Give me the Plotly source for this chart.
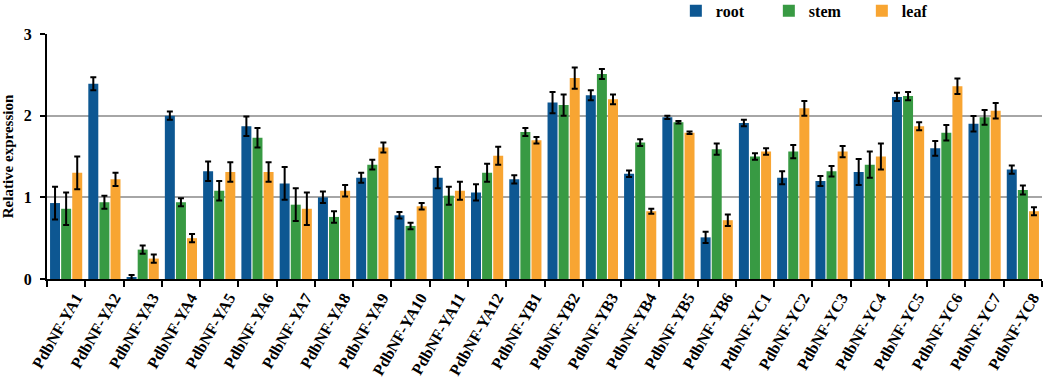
import plotly.graph_objects as go

genes = ["PdbNF-YA1", "PdbNF-YA2", "PdbNF-YA3", "PdbNF-YA4", "PdbNF-YA5", "PdbNF-YA6",
         "PdbNF-YA7", "PdbNF-YA8", "PdbNF-YA9", "PdbNF-YA10", "PdbNF-YA11", "PdbNF-YA12",
         "PdbNF-YB1", "PdbNF-YB2", "PdbNF-YB3", "PdbNF-YB4", "PdbNF-YB5", "PdbNF-YB6",
         "PdbNF-YC1", "PdbNF-YC2", "PdbNF-YC3", "PdbNF-YC4", "PdbNF-YC5", "PdbNF-YC6",
         "PdbNF-YC7", "PdbNF-YC8"]

root = [0.93, 2.39, 0.02, 2.00, 1.32, 1.87, 1.17, 1.00, 1.24, 0.78, 1.24, 1.06,
        1.22, 2.16, 2.25, 1.29, 1.98, 0.51, 1.91, 1.24, 1.20, 1.31, 2.23, 1.60, 1.90, 1.34]
root_err = [0.20, 0.08, 0.03, 0.05, 0.12, 0.12, 0.20, 0.07, 0.06, 0.04, 0.13, 0.10,
            0.05, 0.13, 0.06, 0.04, 0.02, 0.07, 0.04, 0.08, 0.06, 0.16, 0.05, 0.09, 0.095, 0.05]

stem = [0.86, 0.94, 0.36, 0.94, 1.08, 1.73, 0.91, 0.76, 1.40, 0.65, 1.02, 1.30,
        1.80, 2.13, 2.51, 1.67, 1.92, 1.59, 1.50, 1.56, 1.32, 1.40, 2.24, 1.79, 1.98, 1.09]
stem_err = [0.20, 0.08, 0.05, 0.05, 0.12, 0.12, 0.20, 0.07, 0.06, 0.04, 0.11, 0.11,
            0.05, 0.13, 0.06, 0.04, 0.015, 0.07, 0.04, 0.08, 0.065, 0.16, 0.05, 0.095, 0.09, 0.055]

leaf = [1.30, 1.22, 0.25, 0.50, 1.31, 1.31, 0.86, 1.08, 1.61, 0.89, 1.08, 1.51,
        1.70, 2.46, 2.20, 0.83, 1.79, 0.72, 1.56, 2.09, 1.56, 1.50, 1.87, 2.36, 2.06, 0.83]
leaf_err = [0.20, 0.08, 0.05, 0.05, 0.12, 0.12, 0.20, 0.07, 0.06, 0.04, 0.11, 0.11,
            0.04, 0.13, 0.06, 0.03, 0.015, 0.07, 0.04, 0.09, 0.07, 0.16, 0.05, 0.095, 0.095, 0.05]

series = [("root", root, root_err, "#0d5792"),
          ("stem", stem, stem_err, "#389a43"),
          ("leaf", leaf, leaf_err, "#f8a532")]

SERIF = "Liberation Serif, Times New Roman, serif"

fig = go.Figure()
for name, vals, errs, col in series:
    fig.add_trace(go.Bar(
        name=name, x=genes, y=vals,
        marker=dict(color=col, line=dict(width=0)),
        error_y=dict(type="data", array=errs, visible=True, color="black",
                     thickness=2, width=3),
    ))

fig.update_layout(
    width=1045, height=387,
    margin=dict(l=47, r=3, t=34, b=108, autoexpand=False),
    plot_bgcolor="white", paper_bgcolor="white",
    barmode="group", bargap=0.13, bargroupgap=0.1,
    font=dict(family=SERIF, color="black", size=15, weight="bold"),
    showlegend=True,
    legend=dict(orientation="h", x=0.632, xanchor="left",
                y=0.972, yanchor="middle", yref="container",
                font=dict(family=SERIF, size=16, weight="bold", color="black"),
                entrywidth=48, entrywidthmode="pixels",
                bgcolor="rgba(0,0,0,0)", traceorder="normal"),
    xaxis=dict(
        type="category", tickangle=-60, tickson="boundaries",
        ticks="outside", ticklen=6, tickwidth=2, tickcolor="black",
        showline=True, linecolor="black", linewidth=2,
        showgrid=False, ticklabelshift=10, ticklabelstandoff=1,
        tickfont=dict(family=SERIF, size=16, weight="bold", color="black"),
    ),
    yaxis=dict(
        range=[0, 3], tickvals=[0, 1, 2, 3], ticktext=["0", "1", "2", "3"],
        ticks="outside", ticklen=5, tickwidth=2, tickcolor="black",
        showline=True, linecolor="black", linewidth=2, ticklabelstandoff=5,
        showgrid=True, gridcolor="#a6a6a6", gridwidth=2, zeroline=False,
        tickfont=dict(family=SERIF, size=16, weight="bold", color="black"),
        title=dict(text="Relative expression", standoff=8,
                   font=dict(family=SERIF, size=15, weight="bold", color="black")),
    ),
)

fig.write_html("out.html", config={"displayModeBar": False},
               post_script="document.body.style.margin='0px';")
